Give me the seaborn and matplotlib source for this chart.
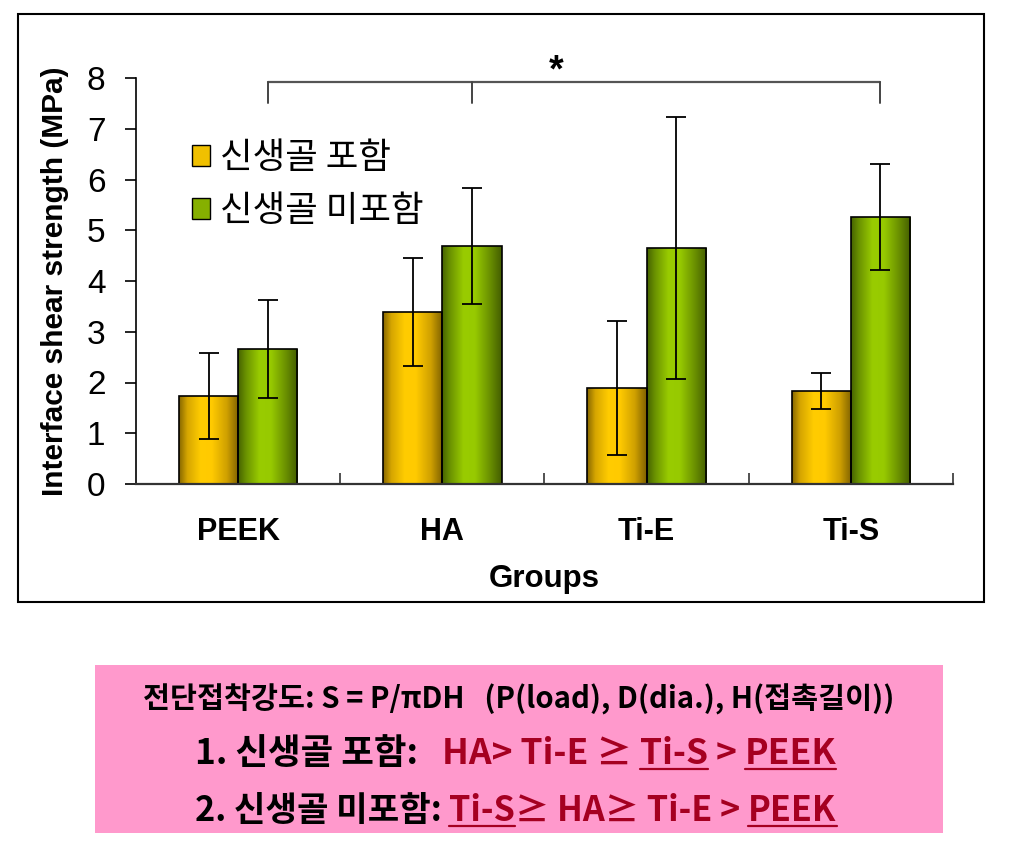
import numpy as np
import pandas as pd
import matplotlib
matplotlib.use("Agg")
import matplotlib.pyplot as plt
import seaborn as sns
from matplotlib.colors import LinearSegmentedColormap
from matplotlib.patches import Rectangle
from matplotlib.lines import Line2D

# ---------------- data ----------------
groups = ["PEEK", "HA", "Ti-E", "Ti-S"]
series = ["신생골 포함", "신생골 미포함"]
with_bone = [1.73, 3.39, 1.89, 1.83]
with_bone_err = [0.85, 1.07, 1.32, 0.35]
without_bone = [2.66, 4.69, 4.65, 5.26]
without_bone_err = [0.97, 1.14, 2.58, 1.04]
y_ticks = [0, 1, 2, 3, 4, 5, 6, 7, 8]
x_label = "Groups"
y_label = "Interface shear strength (MPa)"
sig_mark = "*"
sig_groups = ["PEEK", "HA", "Ti-S"]   # bracket drops at the 신생골 미포함 bars
sig_mark_x = 1.556
box_line1 = "전단접착강도: S = P/πDH   (P(load), D(dia.), H(접촉길이))"
RED = "#a50021"
box_line2 = [("1. 신생골 포함:", "black", False), ("   HA> Ti-E ≥ ", RED, False),
             ("Ti-S", RED, True), (" > ", RED, False), ("PEEK", RED, True)]
box_line3 = [("2. 신생골 미포함: ", "black", False), ("Ti-S", RED, True),
             ("≥ HA≥ Ti-E > ", RED, False), ("PEEK", RED, True)]

# ---------------- style ----------------
sns.set_style("white")
LAT = ["Liberation Sans", "DejaVu Sans"]
KFAM = ["Noto Sans CJK KR", "DejaVu Sans"]
plt.rcParams["font.family"] = LAT
for k in ["text.color", "axes.labelcolor", "xtick.color", "ytick.color"]:
    plt.rcParams[k] = "black"

W, H = 1020, 857
fig = plt.figure(figsize=(W / 100, H / 100), dpi=100)
fig.patch.set_facecolor("white")

ax = fig.add_axes([136 / W, 1 - 484 / H, (953 - 136) / W, (484 - 78) / H])

df = pd.DataFrame({
    "group": groups * 2,
    "series": [series[0]] * len(groups) + [series[1]] * len(groups),
    "value": with_bone + without_bone,
})
base_cols = {series[0]: "#ffcc00", series[1]: "#99cc00"}
sns.barplot(data=df, x="group", y="value", hue="series", order=groups,
            hue_order=series, palette=base_cols, width=0.58, saturation=1,
            edgecolor="black", linewidth=1.2, errorbar=None, legend=False, ax=ax)

grad_maps = [
    LinearSegmentedColormap.from_list("o", [(0, "#876700"), (0.14, "#d6a600"),
                                            (0.36, "#ffcc00"), (0.55, "#ffca00"),
                                            (0.8, "#cfa000"), (1, "#7d6000")]),
    LinearSegmentedColormap.from_list("g", [(0, "#466200"), (0.14, "#6c9400"),
                                            (0.36, "#99cc00"), (0.55, "#97ca00"),
                                            (0.8, "#6a9000"), (1, "#435d00")]),
]
grad = np.linspace(0, 1, 256).reshape(1, -1)
errs = [with_bone_err, without_bone_err]
bar_containers = [c for c in ax.containers]
centers = []
for ci, cont in enumerate(bar_containers):
    xs, ys = [], []
    for bar in cont:
        x0, w, h = bar.get_x(), bar.get_width(), bar.get_height()
        im = ax.imshow(grad, extent=[x0, x0 + w, 0, h], aspect="auto",
                       cmap=grad_maps[ci], origin="lower", zorder=1.5,
                       interpolation="bilinear")
        im.set_clip_path(bar)
        bar.set_facecolor("none")
        bar.set_zorder(2)
        xs.append(x0 + w / 2)
        ys.append(h)
    centers.append(xs)
    ax.errorbar(xs, ys, yerr=errs[ci], fmt="none", ecolor="black",
                elinewidth=1.3, capsize=7, capthick=1.3, zorder=3)

ax.set_xlim(-0.5, len(groups) - 0.5)
ax.set_ylim(0, 8)
ax.set_yticks(y_ticks)
ax.set_yticklabels([str(t) for t in y_ticks], fontsize=24)
ax.set_xticks(range(len(groups)))
ax.set_xticklabels(groups, fontsize=22, fontweight="bold")
ax.set_xticks([i + 0.5 for i in range(len(groups))], minor=True)
ax.tick_params(axis="y", direction="out", length=8, width=1.2, pad=14,
               color="black", left=True)
ax.tick_params(axis="x", which="major", length=0, pad=24)
ax.tick_params(axis="x", which="minor", direction="in", length=8, width=1.2,
               color="#333333", bottom=True)
for s in ["top", "right"]:
    ax.spines[s].set_visible(False)
ax.spines["left"].set_color("black")
ax.spines["left"].set_linewidth(1.2)
ax.spines["bottom"].set_color("#333333")
ax.spines["bottom"].set_linewidth(1.6)
ax.set_facecolor("white")

ax.set_xlabel(x_label, fontsize=22.5, fontweight="bold", labelpad=12)
ax.set_ylabel(y_label, fontsize=21.5, fontweight="bold", labelpad=13)

# significance bracket
gi = [groups.index(g) for g in sig_groups]
bx = [centers[1][i] for i in gi]
top, drop = 7.92, 7.5
ax.plot([bx[0], bx[-1]], [top, top], color="#555555", lw=1.6, clip_on=False, zorder=4)
for xx in bx:
    ax.plot([xx, xx], [top, drop], color="#444444", lw=1.4, clip_on=False, zorder=4)
ax.text(sig_mark_x, 7.93, sig_mark, ha="center", va="baseline", fontsize=27,
        fontweight="bold", clip_on=False)

# legend
handles = [Rectangle((0, 0), 1, 1, facecolor="#f0c000", edgecolor="black", lw=1.0),
           Rectangle((0, 0), 1, 1, facecolor="#86b000", edgecolor="black", lw=1.0)]
ax.legend(handles, series, loc="upper left", bbox_to_anchor=(192 / W, 1 - 140 / H),
          bbox_transform=fig.transFigure, frameon=False, borderpad=0,
          borderaxespad=0, handlelength=0.5, handleheight=0.5,
          handletextpad=0.3, labelspacing=0.48,
          prop={"family": KFAM, "size": 25.5})

# outer chart frame
fig.add_artist(Rectangle((18 / W, 1 - 602 / H), (984 - 18) / W, (602 - 14) / H,
                         transform=fig.transFigure, fill=False, ec="black", lw=1.5))

# pink summary box
fig.add_artist(Rectangle((95 / W, 1 - 833 / H), (943 - 95) / W, (833 - 665) / H,
                         transform=fig.transFigure, fc="#ff99cc", ec="none"))

renderer = fig.canvas.get_renderer()


def text_width(s, size):
    t = fig.text(0, 0, "|" + s + "|", fontsize=size, fontweight="bold", family=KFAM)
    w1 = t.get_window_extent(renderer).width
    t.set_text("||")
    w2 = t.get_window_extent(renderer).width
    t.remove()
    return w1 - w2


def draw_segments(segs, x0, baseline, target):
    ref = 20.0
    total = sum(text_width(s, ref) for s, _, _ in segs)
    size = ref * target / total
    x = x0
    for s, col, ul in segs:
        stripped = s.lstrip(" ")
        lead = text_width(s[: len(s) - len(stripped)], size) if stripped != s else 0.0
        fig.text((x + lead) / W, 1 - baseline / H, stripped, ha="left", va="baseline",
                 fontsize=size, fontweight="bold", color=col, family=KFAM)
        if ul:
            wv = text_width(stripped.rstrip(" "), size)
            fig.add_artist(Line2D([(x + lead) / W, (x + lead + wv) / W],
                                  [1 - (baseline + 5) / H] * 2,
                                  transform=fig.transFigure, color=col, lw=1.6))
        x += text_width(s, size)


draw_segments([(box_line1, "black", False)], 143, 709, 750)
draw_segments(box_line2, 195, 764, 642)
draw_segments(box_line3, 195, 821, 642)

fig.savefig("out.png", dpi=100, facecolor="white")
